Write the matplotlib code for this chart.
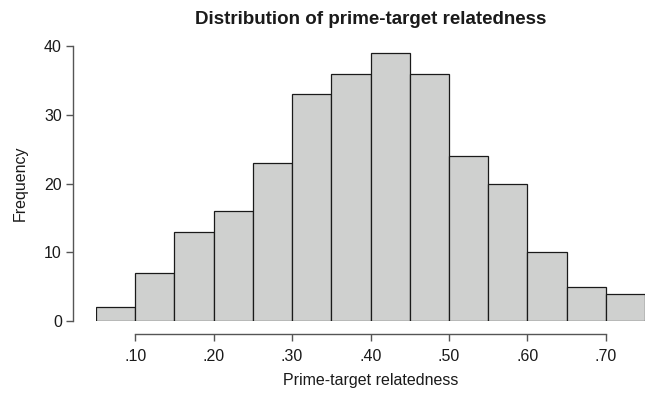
import matplotlib
matplotlib.use("Agg")
import matplotlib.pyplot as plt
import numpy as np

bin_edges = [0.05, 0.10, 0.15, 0.20, 0.25, 0.30, 0.35, 0.40, 0.45, 0.50, 0.55, 0.60, 0.65, 0.70, 0.75]
counts = [2, 7, 13, 16, 23, 33, 36, 39, 36, 24, 20, 10, 5, 4]
x_ticks = [0.10, 0.20, 0.30, 0.40, 0.50, 0.60, 0.70]
x_labels = [".10", ".20", ".30", ".40", ".50", ".60", ".70"]
y_ticks = [0, 10, 20, 30, 40]

plt.rcParams["font.family"] = ["Liberation Sans", "DejaVu Sans"]

W, H = 649, 393
fig = plt.figure(figsize=(W / 100, H / 100), dpi=100)
ax = fig.add_axes([96 / W, 1 - 321 / H, 549 / W, (321 - 46) / H])

edges = np.array(bin_edges)
ax.bar(edges[:-1], counts, width=np.diff(edges), align="edge",
       color="#cfd0cf", edgecolor="#1a1a1a", linewidth=0.9)

ax.set_xlim(0.05, 0.75)
ax.set_ylim(0, 40)

axis_col = "#555555"
for s in ["top", "right"]:
    ax.spines[s].set_visible(False)
ax.spines["left"].set_position(("outward", 23 * 0.72))
ax.spines["bottom"].set_position(("outward", 13 * 0.72))
ax.spines["left"].set_bounds(0, 40)
ax.spines["bottom"].set_bounds(0.10, 0.70)
for s in ["left", "bottom"]:
    ax.spines[s].set_color(axis_col)
    ax.spines[s].set_linewidth(1.0)

ax.set_xticks(x_ticks)
ax.set_xticklabels(x_labels)
ax.set_yticks(y_ticks)
ax.tick_params(axis="both", colors=axis_col, labelcolor="#1a1a1a",
               labelsize=11.5, length=5, width=1.0, direction="out")
ax.tick_params(axis="x", pad=6)
ax.tick_params(axis="y", pad=3)

ax.set_xlabel("Prime-target relatedness", fontsize=11.5, color="#1a1a1a", labelpad=6)
ax.set_ylabel("Frequency", fontsize=11.5, color="#1a1a1a", labelpad=12)
fig.text(0.5 * (96 + 645) / W, 1 - 19 / H, "Distribution of prime-target relatedness",
         ha="center", va="center", fontsize=13.5, fontweight="bold", color="#1a1a1a")

fig.savefig("out.png", dpi=100)
